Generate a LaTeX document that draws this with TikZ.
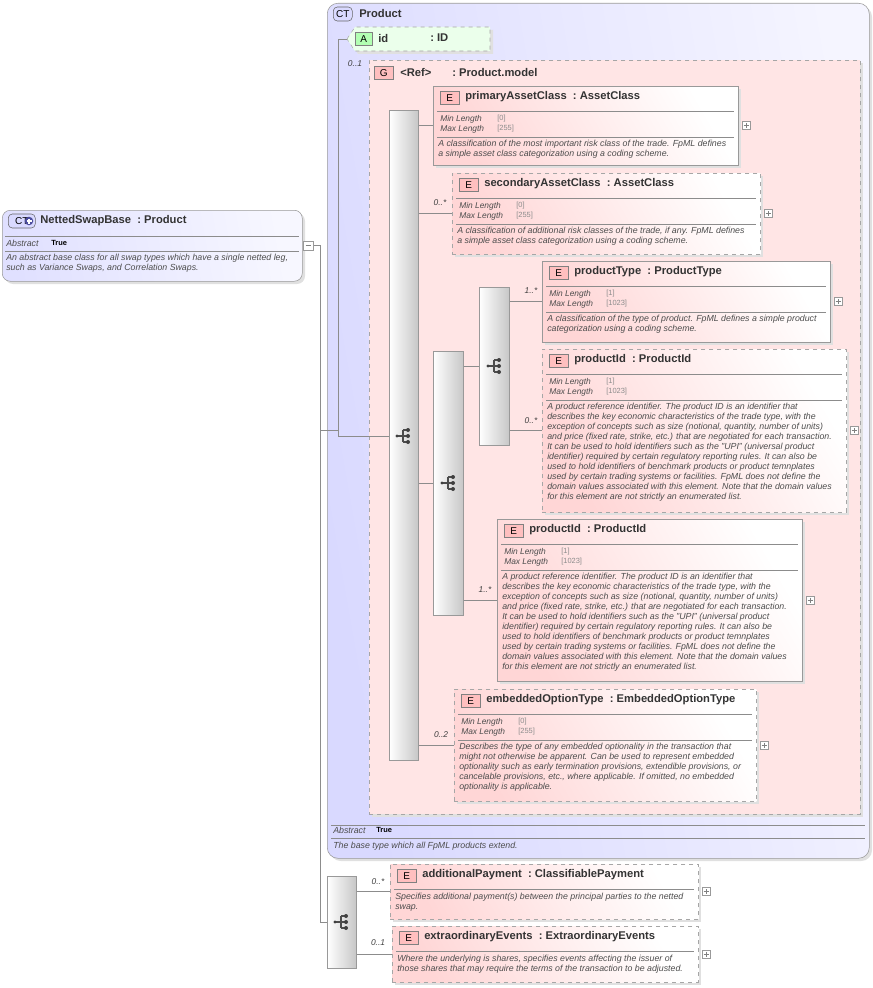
\documentclass[tikz,border=0pt]{standalone}
\usepackage{fontspec}
\setmainfont{Liberation Sans}
\begin{document}
\begin{tikzpicture}[x=0.75pt,y=-0.75pt,
 ebx/.style={draw=black!35,left color=red!16,right color=white,shading angle=120,inner sep=0},
 dsh/.style={dashed,draw=black!35},
 sld/.style={solid,draw=black!40},
 eicon/.style={draw=black!50,fill=red!25,font=\fontsize{7.5}{8}\selectfont,minimum width=19*0.75pt,minimum height=13*0.75pt,inner sep=0},
 ttl/.style={font=\bfseries\fontsize{8.4}{9}\selectfont,text=black!80,inner sep=0},
 sep/.style={draw=black!45,line width=0.4pt},
 con/.style={draw=black!45,line width=0.5pt},
 seq/.style={draw=black!40,left color=white,right color=black!22,inner sep=0},
 dtxt/.style={font=\itshape\fontsize{6.6}{7.5}\selectfont,text=black!70,align=left,inner sep=0,anchor=north west},
 card/.style={font=\itshape\fontsize{6.3}{7}\selectfont,text=black!75,inner sep=0}]
\useasboundingbox (0,0) rectangle (873,988);
\newcommand\plusbox[2]{\draw[black!40,fill=white] (#1-4,#2-4) rectangle (#1+4,#2+4); \draw[black!50] (#1-2.5,#2) -- (#1+2.5,#2) (#1,#2-2.5) -- (#1,#2+2.5);}
\newcommand\ebox[8]{%
 \fill[black!12] (#2+3,#3+3) rectangle (#2+#4+3,#3+#5+3);
 \node[ebx,#6,minimum width=#4*0.75pt,minimum height=#5*0.75pt,anchor=north west] (#1) at (#2,#3) {};
 \node[eicon,anchor=west] at (#2+7,#3+12) {E};
 \node[ttl,anchor=west] at (#2+32,#3+11) {#7\ \ :\ #8};
 \draw[sep] (#2+4,#3+25) -- (#2+#4-4,#3+25);
 \plusbox{#2+#4+8}{#3+#5/2}}
\newcommand\fac[5]{%
 \node[dtxt,font=\itshape\fontsize{6.3}{7.5}\selectfont] at (#1+7,#2+29) {Min Length\\Max Length};
 \node[dtxt,font=\fontsize{5.6}{7.5}\selectfont,text=black!45] at (#1+64,#2+29) {{[}#4{]}\\{[}#5{]}};
 \draw[sep] (#1+4,#2+51) -- (#1+#3-4,#2+51);}
\newcommand\seqicon[2]{%
 \draw[black!70,line width=0.8pt] (#1-6,#2) -- (#1,#2) (#1,#2-6) -- (#1,#2+6) (#1,#2-6) -- (#1+5,#2-6) (#1,#2+6) -- (#1+5,#2+6) (#1,#2) -- (#1+5,#2);
 \fill[black!75] (#1-6,#2) circle[radius=1.3pt];
 \fill[black!75] (#1+5,#2-6) circle[radius=1.5pt];
 \fill[black!75] (#1+5,#2) circle[radius=1.5pt];
 \fill[black!75] (#1+5,#2+6) circle[radius=1.5pt];}
% NettedSwapBase
\fill[black!12] (5,213) [rounded corners=6pt] rectangle (305,284);
\node[draw=black!40,rounded corners=6pt,left color=blue!12,right color=blue!3,shading angle=100,minimum width=300*0.75pt,minimum height=71*0.75pt,anchor=north west,inner sep=0] (nsb) at (2,210) {};
\node[draw=black!60,rounded corners=3pt,fill=blue!15,font=\fontsize{7.5}{8}\selectfont,minimum width=27*0.75pt,minimum height=14*0.75pt,inner sep=0,anchor=west] (cti) at (8,221) {CT\hspace{8pt}};
\fill[blue!45!black!70] (29,221) circle[radius=3.2pt];
\draw[white,line width=0.8pt] (26.5,221) -- (31.5,221) (29,218.5) -- (29,223.5);
\node[ttl,anchor=west] at (40,221) {NettedSwapBase\ \ :\ Product};
\draw[sep] (5,236) -- (299,236);
\node[dtxt] at (6,240) {Abstract};
\node[dtxt,font=\bfseries\fontsize{5.6}{7}\selectfont,text=black] at (51,240.5) {True};
\draw[sep] (5,251) -- (299,251);
\node[dtxt] at (6,254) {An abstract base class for all swap types which have a single netted leg,\\such as Variance Swaps, and Correlation Swaps.};
\draw[black!40,fill=white] (303,241) rectangle (313,250); \draw[black!50] (305.5,245.5) -- (310.5,245.5);
% Product
\fill[black!12] (330,6) [rounded corners=8pt] rectangle (872,861);
\node[draw=black!40,rounded corners=8pt,left color=blue!15,right color=blue!4,shading angle=100,minimum width=542*0.75pt,minimum height=855*0.75pt,anchor=north west,inner sep=0] (prod) at (327,3) {};
\node[draw=black!60,rounded corners=3pt,fill=blue!15,font=\fontsize{7.5}{8}\selectfont,minimum width=19*0.75pt,minimum height=14*0.75pt,inner sep=0,anchor=west] at (333,14) {CT};
\node[ttl,anchor=west] at (359,13) {Product};
\draw[sep] (331,825) -- (865,825);
\node[dtxt] at (333,827) {Abstract};
\node[dtxt,font=\bfseries\fontsize{5.6}{7}\selectfont,text=black] at (376,827.5) {True};
\draw[sep] (331,838) -- (865,838);
\node[dtxt] at (333,842) {The base type which all FpML products extend.};
% id
\fill[black!12] (350,42) -- (358,30) -- (493,30) -- (493,54) -- (358,54) -- cycle;
\filldraw[dashed,draw=black!35,fill=green!8] (347,39) -- (355,27) -- (490,27) -- (490,51) -- (355,51) -- cycle;
\coordinate (idt) at (347,39);
\node[draw=black!50,fill=green!30,font=\fontsize{7.5}{8}\selectfont,minimum width=17*0.75pt,minimum height=13*0.75pt,inner sep=0,anchor=west] at (355,39) {A};
\node[ttl,anchor=west] at (378,38) {id};
\node[ttl,anchor=west] at (430,38) {:\ ID};
% group
\fill[black!12] (372,63) rectangle (863,817);
\node[draw=black!35,dashed,fill=red!10,minimum width=491*0.75pt,minimum height=754*0.75pt,anchor=north west,inner sep=0] (grp) at (369,60) {};
\node[card] at (355,64) {0..1};
\node[eicon,anchor=west] at (374,73) {G};
\node[ttl,anchor=west] at (400,72) {<Ref>};
\node[ttl,anchor=west] at (452,72) {:\ Product.model};
% sequences
\node[seq,minimum width=29*0.75pt,minimum height=650*0.75pt,anchor=north west] (s1) at (389,110) {};
\seqicon{403}{436}
\node[seq,minimum width=30*0.75pt,minimum height=264*0.75pt,anchor=north west] (s2) at (433,351) {};
\seqicon{448}{483}
\node[seq,minimum width=30*0.75pt,minimum height=158*0.75pt,anchor=north west] (s3) at (479,287) {};
\seqicon{494}{366}
\node[seq,minimum width=29*0.75pt,minimum height=92*0.75pt,anchor=north west] (s4) at (327,876) {};
\seqicon{341}{922}
% elements
\ebox{pac}{433}{86}{305}{79}{sld}{primaryAssetClass}{AssetClass}
\fac{433}{86}{305}{0}{255}
\node[dtxt] at (438,140) {A classification of the most important risk class of the trade. FpML defines\\a simple asset class categorization using a coding scheme.};
\ebox{sac}{452}{173}{308}{81}{dsh}{secondaryAssetClass}{AssetClass}
\fac{452}{173}{308}{0}{255}
\node[dtxt] at (457,227) {A classification of additional risk classes of the trade, if any. FpML defines\\a simple asset class categorization using a coding scheme.};
\ebox{pt}{542}{261}{288}{81}{sld}{productType}{ProductType}
\fac{542}{261}{288}{1}{1023}
\node[dtxt] at (547,315) {A classification of the type of product. FpML defines a simple product\\categorization using a coding scheme.};
\ebox{pid}{542}{349}{304}{163}{dsh}{productId}{ProductId}
\fac{542}{349}{304}{1}{1023}
\node[dtxt] at (547,403) {A product reference identifier. The product ID is an identifier that\\describes the key economic characteristics of the trade type, with the\\exception of concepts such as size (notional, quantity, number of units)\\and price (fixed rate, strike, etc.) that are negotiated for each transaction.\\It can be used to hold identifiers such as the "UPI" (universal product\\identifier) required by certain regulatory reporting rules. It can also be\\used to hold identifiers of benchmark products or product temnplates\\used by certain trading systems or facilities. FpML does not define the\\domain values associated with this element. Note that the domain values\\for this element are not strictly an enumerated list.};
\ebox{pidb}{497}{519}{305}{162}{sld}{productId}{ProductId}
\fac{497}{519}{305}{1}{1023}
\node[dtxt] at (502,573) {A product reference identifier. The product ID is an identifier that\\describes the key economic characteristics of the trade type, with the\\exception of concepts such as size (notional, quantity, number of units)\\and price (fixed rate, strike, etc.) that are negotiated for each transaction.\\It can be used to hold identifiers such as the "UPI" (universal product\\identifier) required by certain regulatory reporting rules. It can also be\\used to hold identifiers of benchmark products or product temnplates\\used by certain trading systems or facilities. FpML does not define the\\domain values associated with this element. Note that the domain values\\for this element are not strictly an enumerated list.};
\ebox{eot}{454}{689}{302}{112}{dsh}{embeddedOptionType}{EmbeddedOptionType}
\fac{454}{689}{302}{0}{255}
\node[dtxt] at (459,743) {Describes the type of any embedded optionality in the transaction that\\might not otherwise be apparent. Can be used to represent embedded\\optionality such as early termination provisions, extendible provisions, or\\cancelable provisions, etc., where applicable. If omitted, no embedded\\optionality is applicable.};
\ebox{ap}{390}{864}{308}{55}{dsh}{additionalPayment}{ClassifiablePayment}
\node[dtxt] at (395,893) {Specifies additional payment(s) between the principal parties to the netted\\swap.};
\ebox{ee}{392}{926}{306}{56}{dsh}{extraordinaryEvents}{ExtraordinaryEvents}
\node[dtxt] at (397,955) {Where the underlying is shares, specifies events affecting the issuer of\\those shares that may require the terms of the transaction to be adjusted.};
% connectors
\coordinate (j1) at (314,245.5);
\coordinate (j3) at (338,430);
\draw[con] (j1) -- (320,245.5) -- (320,922) -- (s4.west |- 0,922);
\draw[con] (320,430) -- (j3);
\draw[con] (idt) -- (338,39) -- (338,436) -- (s1.west |- 0,436);
\draw[con] (s1.east |- pac.west) -- (pac.west);
\draw[con] (s1.east |- sac.west) -- (sac.west);
\draw[con] (s1.east |- s2.west) -- (s2.west);
\draw[con] (s1.east |- eot.west) -- (eot.west);
\draw[con] (s2.east |- s3.west) -- (s3.west);
\draw[con] (s2.east |- pidb.west) -- (pidb.west);
\draw[con] (s3.east |- pt.west) -- (pt.west);
\draw[con] (s3.east |- pid.west) -- (pid.west);
\draw[con] (s4.east |- ap.west) -- (ap.west);
\draw[con] (s4.east |- ee.west) -- (ee.west);
\node[card] at (440,203) {0..*};
\node[card] at (531,291) {1..*};
\node[card] at (531,421) {0..*};
\node[card] at (485,590) {1..*};
\node[card] at (441,735) {0..2};
\node[card] at (378,882) {0..*};
\node[card] at (378,943) {0..1};
\end{tikzpicture}
\end{document}
